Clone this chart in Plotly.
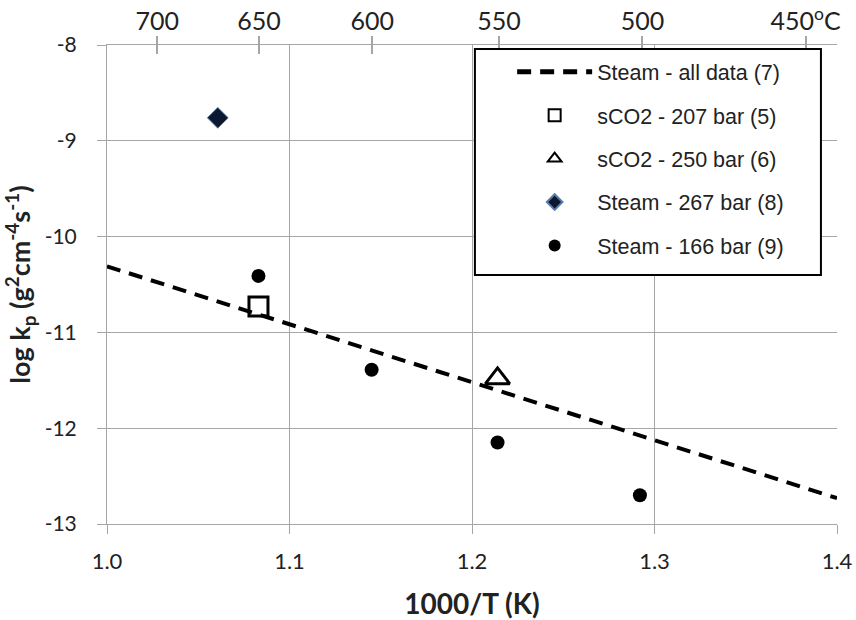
import plotly.graph_objects as go

# Data
fit_x = [1.0, 1.4]
fit_y = [-10.31, -12.73]
sco2_207_x = [1.083]
sco2_207_y = [-10.73]
sco2_250_x = [1.214]
sco2_250_y = [-11.48]
steam_267_x = [1.0607]
steam_267_y = [-8.76]
steam_166_x = [1.083, 1.145, 1.214, 1.292]
steam_166_y = [-10.41, -11.39, -12.15, -12.70]

x_ticks = [1.0, 1.1, 1.2, 1.3, 1.4]
x_labels = ["1.0", "1.1", "1.2", "1.3", "1.4"]
y_ticks = [-13, -12, -11, -10, -9, -8]
y_labels = ["-13", "-12", "-11", "-10", "-9", "-8"]
top_celsius = [700, 650, 600, 550, 500, 450]
top_labels = ["700", "650", "600", "550", "500", "450<sup>o</sup>C"]
top_vals = [1000.0 / (c + 273.15) for c in top_celsius]

fig = go.Figure()
fig.add_trace(go.Scatter(x=fit_x, y=fit_y, mode="lines", name="Steam - all data (7)",
                         line=dict(color="black", width=4, dash="14px,9px"),
                         legendgroup="a"))
fig.add_trace(go.Scatter(x=sco2_207_x, y=sco2_207_y, mode="markers", name="sCO2 - 207 bar (5)",
                         marker=dict(symbol="square-open", size=19, color="black", line=dict(width=3)),
                         legendgroup="b"))
fig.add_trace(go.Scatter(x=sco2_250_x, y=sco2_250_y, mode="markers", name="sCO2 - 250 bar (6)",
                         marker=dict(symbol="triangle-up-open", size=21, color="black", line=dict(width=3)),
                         legendgroup="c"))
fig.add_trace(go.Scatter(x=steam_267_x, y=steam_267_y, mode="markers", name="Steam - 267 bar (8)",
                         marker=dict(symbol="diamond", size=16, color="#0c1830",
                                     line=dict(color="#5a7aa8", width=1)),
                         legendgroup="d"))
fig.add_trace(go.Scatter(x=steam_166_x, y=steam_166_y, mode="markers", name="Steam - 166 bar (9)",
                         marker=dict(symbol="circle", size=14, color="black"),
                         legendgroup="e"))
# invisible traces to carry top axes
fig.add_trace(go.Scatter(x=fit_x, y=fit_y, xaxis="x2", mode="lines", line=dict(width=0),
                         showlegend=False, hoverinfo="skip", opacity=0))
fig.add_trace(go.Scatter(x=fit_x, y=fit_y, xaxis="x3", mode="lines", line=dict(width=0),
                         showlegend=False, hoverinfo="skip", opacity=0))

grid = "#a6a6a6"
txt = "#222"

# legend frame (box drawn as a shape, legend itself borderless inside)
fig.add_shape(type="rect", xref="paper", yref="paper", x0=0.504, x1=0.978, y0=0.520, y1=0.9916,
              line=dict(color="black", width=2), fillcolor="white", layer="above")

fig.update_layout(
    width=856, height=620,
    margin=dict(l=107, r=19, t=45, b=96),
    plot_bgcolor="white", paper_bgcolor="white",
    showlegend=True,
    legend=dict(x=0.555, y=0.987, xanchor="left", yanchor="top",
                borderwidth=0, bgcolor="rgba(0,0,0,0)",
                font=dict(family="Liberation Sans", size=21.5, color=txt),
                traceorder="grouped", tracegroupgap=12.5, itemwidth=75,
                itemsizing="constant"),
    xaxis=dict(range=[1.0, 1.4], tickvals=x_ticks, ticktext=x_labels, automargin=False,
               showgrid=True, gridcolor=grid, gridwidth=1,
               showline=True, linecolor=grid, linewidth=1,
               ticks="outside", ticklen=9, tickcolor=grid, ticklabelstandoff=9,
               tickfont=dict(family="Lato", size=22, color=txt), zeroline=False,
               title=dict(text="<b>1000/T (K)</b>", font=dict(family="Lato", size=28, color=txt),
                          standoff=22)),
    xaxis2=dict(range=[1.0, 1.4], overlaying="x", side="top", tickvals=top_vals, ticktext=top_labels,
                automargin=False, showgrid=False, showline=True, linecolor=grid, linewidth=1,
                ticks="outside", ticklen=8, tickcolor=grid, tickwidth=1.5, ticklabelstandoff=-4,
                tickfont=dict(family="Lato", size=25, color=txt), zeroline=False),
    xaxis3=dict(range=[1.0, 1.4], overlaying="x", side="top", tickvals=top_vals, automargin=False,
                showticklabels=False, showgrid=False, showline=False,
                ticks="inside", ticklen=9, tickcolor=grid, tickwidth=1.5, zeroline=False),
    yaxis=dict(range=[-13, -8], tickvals=y_ticks, ticktext=y_labels, automargin=False,
               showgrid=True, gridcolor=grid, gridwidth=1,
               showline=True, linecolor=grid, linewidth=1,
               ticks="outside", ticklen=9, tickcolor=grid, ticklabelstandoff=16,
               tickfont=dict(family="Lato", size=21, color=txt), zeroline=False,
               title=dict(text="<b>log k<sub>p</sub> (g<sup>2</sup>cm<sup>-4</sup>s<sup>-1</sup>)</b>",
                          font=dict(family="Lato", size=27, color=txt), standoff=10)),
)

fig.write_html("out.html")
